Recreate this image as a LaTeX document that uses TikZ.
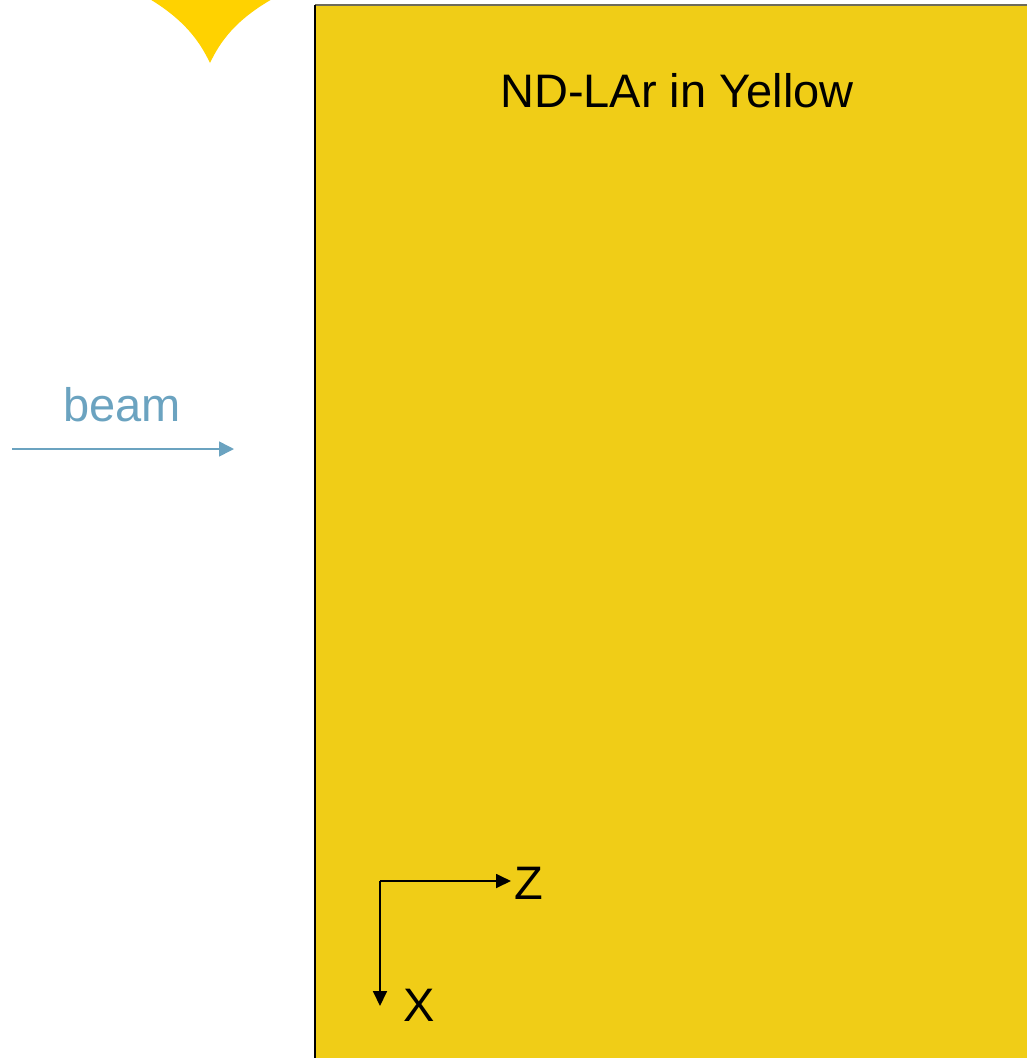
\documentclass[tikz,border=0pt]{standalone}
\usepackage{fontspec}
\setmainfont{Liberation Sans}
\usetikzlibrary{arrows.meta}
\definecolor{ndyellow}{HTML}{F0CD17}
\definecolor{staryellow}{HTML}{FFD200}
\definecolor{beamblue}{HTML}{6BA3C0}
\definecolor{topgray}{HTML}{6E6B5A}
\tikzset{
  lbl/.style={font=\fontsize{47}{50}\selectfont, inner sep=0pt},
  axis/.style={black, line width=1.8pt, -{Triangle[length=15pt,width=14pt]}},
  beamarrow/.style={beamblue, line width=1.6pt, -{Triangle[length=15pt,width=15pt]}}
}
\begin{document}
\begin{tikzpicture}[x=1pt,y=-1pt]
\useasboundingbox (0,0) rectangle (1026,1058);
% star cusp at top
\fill[staryellow] (148,-2) .. controls (185,20) and (200,42) .. (210,63)
  .. controls (220,42) and (235,20) .. (274,-2) -- cycle;
% detector box
\fill[ndyellow] (315,5) rectangle (1030,1062);
\draw[topgray, line width=1.5pt] (315,5) -- (1030,5);
\draw[black, line width=1.2pt] (315,5) -- (315,1062);
\node[lbl] (title) at (677,91) {ND-LAr in Yellow};
% beam
\node[lbl, text=beamblue] (beamlbl) at (122,405) {beam};
\coordinate (bs) at (12,449);
\coordinate (be) at (234,449);
\draw[beamarrow] (bs) -- (be);
% axes
\coordinate (o) at (380,881);
\coordinate (zt) at (511,881);
\coordinate (xt) at (380,1006);
\node[lbl] (zl) at (529,883) {Z};
\node[lbl] (xl) at (419,1005) {X};
\draw[axis] (o) -- (zt);
\draw[axis] (o) -- (xt);
\end{tikzpicture}
\end{document}
